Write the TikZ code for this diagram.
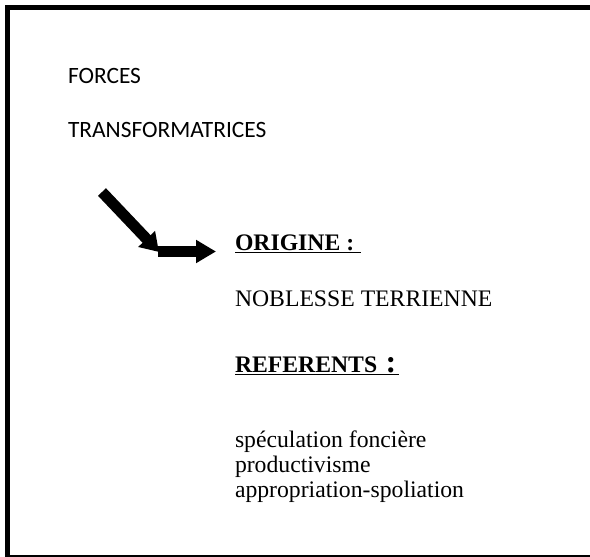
\documentclass[tikz,border=0pt]{standalone}
\usepackage{fontspec}
\setmainfont{Liberation Serif}
\newfontfamily\calib{Carlito}
\usetikzlibrary{arrows.meta}
\newcommand\myul[1]{\setbox0\hbox{#1}\rlap{\rule[-3.2pt]{\wd0}{1.4pt}}\box0}
\tikzset{
  x=1pt,y=-1pt,
  lab/.style={anchor=base west,inner sep=0pt,outer sep=0pt},
  sanslab/.style={lab,font=\calib\fontsize{23.4}{28}\selectfont},
  seriflab/.style={lab,font=\fontsize{23.7}{25}\selectfont},
  blockarrow/.style={line width=11pt,-{Triangle[length=18pt,width=22pt]}},
}
\begin{document}
\begin{tikzpicture}
\useasboundingbox (0,0) rectangle (590,557);
% frame
\fill[black] (5,5) rectangle (10,557);
\fill[black] (5,5) rectangle (590,10);
\fill[black] (5,554.5) rectangle (590,557);
% texts
\node[sanslab] (forces) at (68,83) {FORCES};
\node[sanslab] (transf) at (68,137) {TRANSFORMATRICES};
\node[seriflab,font=\bfseries\fontsize{23.7}{25}\selectfont] (origine) at (235,250) {\myul{ORIGINE :\hspace{0.3em}}};
\node[seriflab] (noblesse) at (235,306) {NOBLESSE TERRIENNE};
\node[seriflab,font=\bfseries\fontsize{23.7}{25}\selectfont] (referents) at (235,372) {\myul{REFERENTS\hspace{0.35em}{\fontsize{32}{32}\selectfont:}\hspace{0.1em}}};
\node[seriflab,align=left,anchor=north west] (list) at (235,431) {sp\'eculation fonci\`ere\\productivisme\\appropriation-spoliation};
% arrows
\coordinate (d1) at (102,192);
\coordinate (d2) at (159,252);
\coordinate (h1) at (158,251.5);
\coordinate (h2) at (216,251.5);
\draw[blockarrow] (d1) -- (d2);
\draw[blockarrow,-{Triangle[length=20pt,width=22pt]}] (h1) -- (h2);
\end{tikzpicture}
\end{document}
